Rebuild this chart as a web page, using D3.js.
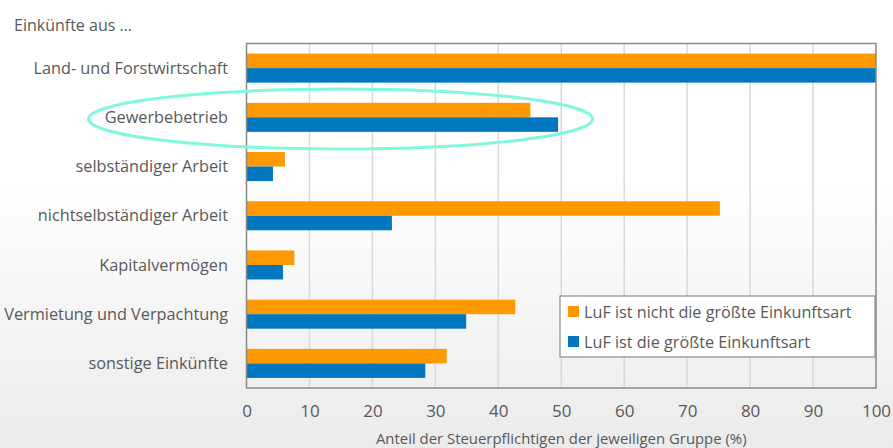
<!DOCTYPE html>
<html>
<head>
<meta charset="utf-8">
<script src="https://cdn.jsdelivr.net/npm/d3@7"></script>
<style>
  body { margin: 0; background: #fff; }
  svg { display: block; font-family: "Open Sans", sans-serif; }
</style>
</head>
<body>
<div id="chart"></div>
<script>
var categories = ["Land- und Forstwirtschaft", "Gewerbebetrieb", "selbständiger Arbeit",
    "nichtselbständiger Arbeit", "Kapitalvermögen", "Vermietung und Verpachtung", "sonstige Einkünfte"];
var seriesNames = ["LuF ist nicht die größte Einkunftsart", "LuF ist die größte Einkunftsart"];
var notLargest = [100, 45.1, 6.1, 75.2, 7.6, 42.7, 31.8];
var largest = [100, 49.5, 4.2, 23.1, 5.8, 34.9, 28.4];
var xTicks = [0, 10, 20, 30, 40, 50, 60, 70, 80, 90, 100];
var colors = ["#ff9900", "#0077be"];

var w = 893, h = 448;
var plotLeft = 246.5, plotRight = 876, plotTop = 43.5, plotBottom = 388;

var svg = d3.select("#chart").append("svg")
    .attr("width", w)
    .attr("height", h);

// background gradient
var grad = svg.append("defs").append("linearGradient")
    .attr("id", "bg").attr("x1", 0).attr("y1", 0).attr("x2", 0).attr("y2", 1);
grad.append("stop").attr("offset", "0%").attr("stop-color", "#ffffff");
grad.append("stop").attr("offset", "40%").attr("stop-color", "#ffffff");
grad.append("stop").attr("offset", "100%").attr("stop-color", "#ebebeb");
svg.append("rect").attr("width", w).attr("height", h).attr("fill", "url(#bg)");

var x = d3.scaleLinear().domain([0, 100]).range([plotLeft, plotRight]);
var y = d3.scaleBand().domain(categories).range([plotTop, plotBottom]).paddingInner(0.41).paddingOuter(0.205);
var ySub = d3.scaleBand().domain([0, 1]).range([0, y.bandwidth()]);

// gridlines
svg.append("g").selectAll("line")
    .data(xTicks.slice(1, -1))
    .enter().append("line")
    .attr("x1", d => x(d)).attr("x2", d => x(d))
    .attr("y1", plotTop).attr("y2", plotBottom)
    .attr("stroke", "#d9d9d9")
    .attr("stroke-width", 1.5);

// bars
var data = categories.map((c, i) => ({ cat: c, vals: [notLargest[i], largest[i]] }));
var groups = svg.append("g").selectAll("g")
    .data(data)
    .enter().append("g")
    .attr("transform", d => "translate(0," + y(d.cat) + ")");
groups.selectAll("rect")
    .data(d => d.vals.map((v, k) => ({ v: v, k: k })))
    .enter().append("rect")
    .attr("x", x(0))
    .attr("y", d => ySub(d.k))
    .attr("width", d => x(d.v) - x(0))
    .attr("height", ySub.bandwidth())
    .attr("fill", d => colors[d.k]);

// plot border
svg.append("rect")
    .attr("x", plotLeft).attr("y", plotTop)
    .attr("width", plotRight - plotLeft).attr("height", plotBottom - plotTop)
    .attr("fill", "none")
    .attr("stroke", "#898989")
    .attr("stroke-width", 1.5);

// category labels
svg.append("g").selectAll("text")
    .data(categories)
    .enter().append("text")
    .attr("x", 228)
    .attr("y", d => y(d) + y.bandwidth() / 2)
    .attr("dy", "0.35em")
    .attr("text-anchor", "end")
    .attr("fill", "#595959")
    .style("font-size", "16.3px")
    .text(d => d);

// x axis
var xAxis = d3.axisBottom(x).tickValues(xTicks).tickSize(0).tickPadding(17);
var ax = svg.append("g")
    .attr("transform", "translate(0," + plotBottom + ")")
    .call(xAxis);
ax.select(".domain").remove();
ax.selectAll("text")
    .attr("fill", "#595959")
    .style("font-size", "17px")
    .style("font-family", "Open Sans, sans-serif");

svg.append("text")
    .attr("x", (plotLeft + plotRight) / 2)
    .attr("y", 444)
    .attr("text-anchor", "middle")
    .attr("fill", "#595959")
    .style("font-size", "14.9px")
    .text("Anteil der Steuerpflichtigen der jeweiligen Gruppe (%)");

svg.append("text")
    .attr("x", 14)
    .attr("y", 31)
    .attr("fill", "#595959")
    .style("font-size", "16px")
    .text("Einkünfte aus …");

// legend
var lg = svg.append("g").attr("transform", "translate(560,296)");
lg.append("rect")
    .attr("width", 315).attr("height", 61)
    .attr("fill", "#ffffff")
    .attr("stroke", "#8c8c8c")
    .attr("stroke-width", 1.2);
seriesNames.forEach((s, i) => {
    lg.append("rect")
        .attr("x", 8).attr("y", 10 + i * 30)
        .attr("width", 11).attr("height", 11)
        .attr("fill", colors[i]);
    lg.append("text")
        .attr("x", 24).attr("y", 16 + i * 30)
        .attr("dy", "0.35em")
        .attr("fill", "#595959")
        .style("font-size", "16.2px")
        .text(s);
});

// highlight ellipse
svg.append("ellipse")
    .attr("cx", 340.5).attr("cy", 119)
    .attr("rx", 252).attr("ry", 30)
    .attr("fill", "none")
    .attr("stroke", "#7ff8dc")
    .attr("stroke-width", 3);
</script>
</body>
</html>
